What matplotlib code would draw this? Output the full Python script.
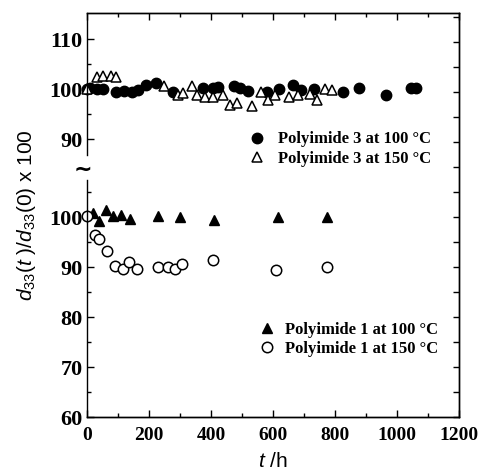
import numpy as np
import matplotlib
matplotlib.use('Agg')
import matplotlib.pyplot as plt
from matplotlib.ticker import FixedLocator

plt.rcParams['mathtext.fontset'] = 'custom'
plt.rcParams['mathtext.rm'] = 'Liberation Sans'
plt.rcParams['mathtext.it'] = 'Liberation Sans:italic'

# polyimide 3 (upper part of the broken axis)
pi3_100_t = [0, 11, 31, 53, 95, 118, 144, 166, 189, 224, 279, 373, 405, 424, 473, 495,
             518, 582, 618, 663, 689, 731, 827, 876, 965, 1045, 1062]
pi3_100_v = [100.0, 100.2, 100.0, 100.0, 99.4, 99.6, 99.4, 99.8, 100.8, 101.2, 99.4, 100.2,
             100.2, 100.4, 100.6, 100.2, 99.6, 99.4, 100.0, 100.8, 99.8, 100.0, 99.4, 100.2,
             98.8, 100.2, 100.2]
pi3_150_t = [0, 31, 53, 76, 95, 247, 292, 311, 340, 356, 382, 405, 440, 460, 485, 531,
             560, 585, 608, 650, 682, 718, 743, 768, 789]
pi3_150_v = [100.0, 102.4, 102.6, 102.6, 102.4, 100.6, 98.8, 99.2, 100.6, 98.8, 98.4, 98.4,
             98.8, 96.8, 97.2, 96.6, 99.4, 97.8, 98.8, 98.4, 98.8, 99.0, 97.8, 100.0, 99.8]

# polyimide 1 (lower part)
pi1_100_t = [20, 40, 60, 85, 110, 140, 230, 300, 410, 615, 775]
pi1_100_v = [100.8, 99.2, 101.4, 100.2, 100.4, 99.6, 100.2, 100.0, 99.4, 100.0, 100.0]
pi1_150_t = [0, 25, 40, 65, 90, 115, 135, 160, 230, 260, 285, 305, 405, 610, 775]
pi1_150_v = [100.2, 96.4, 95.6, 93.2, 90.2, 89.6, 91.0, 89.6, 90.0, 90.0, 89.6, 90.6,
             91.4, 89.4, 90.0]

x_ticks = [0, 200, 400, 600, 800, 1000, 1200]
y_ticks_low = [60, 70, 80, 90, 100]
y_ticks_up = [90, 100, 110]

OFFSET = 25.6  # upper values are drawn shifted by this on the shared axis

xtick_font = {'family': 'Liberation Serif', 'weight': 'bold', 'size': 14}
ytick_font = {'family': 'Liberation Serif', 'weight': 'bold', 'size': 16}
leg_font = {'family': 'Liberation Serif', 'weight': 'bold', 'size': 12}

fig = plt.figure(figsize=(4.85, 4.73), dpi=100)
ax = fig.add_axes([87 / 485, 56 / 473, 372 / 485, 404 / 473])

up = lambda v: np.array(v) + OFFSET

h1, = ax.plot(pi3_100_t, up(pi3_100_v), 'o', color='k', ms=7.5, ls='none',
              label='Polyimide 3 at 100 \u00b0C', clip_on=False)
h2, = ax.plot(pi3_150_t, up(pi3_150_v), '^', mfc='white', mec='k', mew=1.1, ms=7.5,
              ls='none', label='Polyimide 3 at 150 \u00b0C', clip_on=False)
h3, = ax.plot(pi1_100_t, pi1_100_v, '^', color='k', ms=7.5, ls='none',
              label='Polyimide 1 at 100 \u00b0C', clip_on=False)
h4, = ax.plot(pi1_150_t, pi1_150_v, 'o', mfc='white', mec='k', mew=1.1, ms=7.5,
              ls='none', label='Polyimide 1 at 150 \u00b0C', clip_on=False)

ax.set_xlim(0, 1200)
ax.set_ylim(60, 140.8)

ax.set_xticks(x_ticks)
ax.set_xticklabels([str(t) for t in x_ticks], fontdict=xtick_font)
ax.xaxis.set_minor_locator(FixedLocator(np.arange(100, 1200, 100)))

yt = list(y_ticks_low) + list(up(y_ticks_up))
ax.set_yticks(yt)
ax.set_yticklabels([str(v) for v in y_ticks_low + y_ticks_up], fontdict=ytick_font)
ax.yaxis.set_minor_locator(FixedLocator([65, 75, 85, 95, 105, 95 + OFFSET, 105 + OFFSET]))

ax.tick_params(which='both', direction='in', top=True, right=False, width=1)
ax.tick_params(which='major', length=5)
ax.tick_params(which='minor', length=3)
ax.tick_params(axis='x', pad=7)
ax.tick_params(axis='y', pad=3)

# right side ticks, continuous
ax2 = ax.twinx()
ax2.set_ylim(ax.get_ylim())
ax2.set_yticks(np.arange(60, 141, 5))
ax2.tick_params(direction='in', length=4, width=1, labelright=False)
ax2.spines['left'].set_visible(False)

for s in ax.spines.values():
    s.set_linewidth(1.0)
for s in ax2.spines.values():
    s.set_linewidth(1.0)

# broken left spine
ax.spines['left'].set_bounds(60, 107.4)
ax.plot([0, 0], [112.4, 140.8], color='k', lw=1.0, transform=ax.get_yaxis_transform(),
        clip_on=False)
ax.text(-0.01, 109.8, '~', transform=ax.get_yaxis_transform(), ha='center',
        va='center_baseline', fontsize=16, fontweight='bold', family='DejaVu Sans')

ax.set_ylabel(r'$d_{33}(t\ )/d_{33}(0)$ x 100', family='Liberation Sans', fontsize=15,
              labelpad=8)
ax.set_xlabel(r'$t\ $/h', family='Liberation Sans', fontsize=15, labelpad=6)

leg1 = ax.legend(handles=[h1, h2], loc='upper left', bbox_to_anchor=(0.434, 0.707),
                 frameon=False, prop=leg_font, handlelength=1.0, handletextpad=0.8,
                 borderpad=0, borderaxespad=0, labelspacing=0.2, numpoints=1)
ax.add_artist(leg1)
ax.legend(handles=[h3, h4], loc='upper left', bbox_to_anchor=(0.461, 0.236),
          frameon=False, prop=leg_font, handlelength=1.0, handletextpad=0.58,
          borderpad=0, borderaxespad=0, labelspacing=0.2, numpoints=1)

fig.savefig('out.png', dpi=100)
